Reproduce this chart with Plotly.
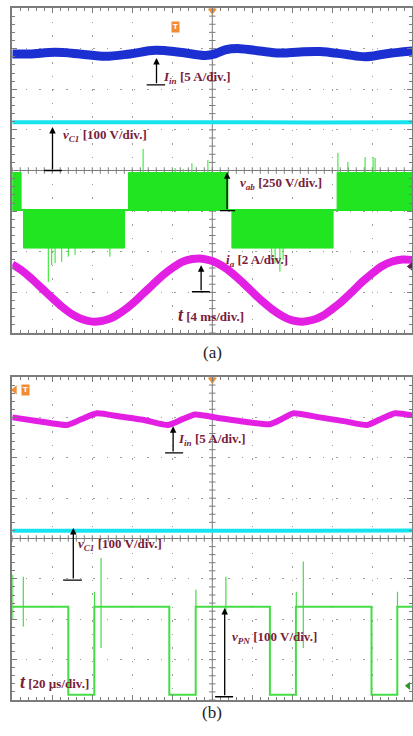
import plotly.graph_objects as go

W, H = 413, 736

# ---------------- panel (a) data, in screen divisions ----------------
iin_a_t = [0, 0.44, 1.07, 1.69, 2.32, 2.94, 3.57, 4.19, 4.82, 5.07, 5.32, 5.69, 6.19, 6.69, 7.19, 7.69, 8.32, 8.82, 9.32, 10.0]
iin_a_v = [2.87, 2.87, 2.91, 2.87, 2.81, 2.87, 2.96, 2.91, 2.83, 2.87, 2.97, 3.00, 2.94, 2.89, 2.92, 2.93, 2.86, 2.80, 2.87, 2.94]

vc1_a_t = [0, 2.5, 5, 7.5, 10]
vc1_a_v = [1.19, 1.20, 1.19, 1.18, 1.19]

vab_zero, vab_pos, vab_neg = -0.97, -0.05, -1.91
vab_pos_blocks = [(0.0, 0.22), (2.905, 5.39), (8.12, 10.0)]
vab_neg_blocks = [(0.28, 2.805), (5.49, 8.02)]
vab_spike_up_t = [3.27, 4.07, 4.27, 4.49, 4.89, 8.14, 8.39, 8.82, 9.02, 9.07]
vab_spike_up_v = [0.53, 0.06, 0.04, 0.18, 0.26, 0.43, 0.21, 0.33, 0.33, 0.31]
vab_spike_dn_t = [0.90, 0.985, 1.07, 1.235, 1.40, 1.57, 2.44, 6.485, 6.57, 6.69, 6.77]
vab_spike_dn_v = [-2.74, -2.33, -2.28, -2.25, -2.12, -2.08, -2.12, -2.20, -2.28, -2.49, -2.20]

ia_t = [i * 0.25 for i in range(41)]
ia_v = [-2.31, -2.47, -2.68, -2.91, -3.14, -3.36, -3.54, -3.66, -3.72, -3.70,
        -3.62, -3.47, -3.28, -3.05, -2.82, -2.59, -2.40, -2.25, -2.18, -2.17,
        -2.23, -2.35, -2.53, -2.75, -2.99, -3.22, -3.42, -3.58, -3.69, -3.72,
        -3.68, -3.58, -3.41, -3.21, -2.98, -2.74, -2.53, -2.35, -2.24, -2.19, -2.20]

# ---------------- panel (b) data ----------------
iin_b_t = [0, 0.69, 1.37, 1.74, 2.12, 2.69, 3.32, 3.89, 4.24, 4.57, 5.19, 5.82, 6.44, 6.74, 7.02, 7.69, 8.32, 8.87, 9.22, 9.57, 10.0]
iin_b_v = [3.00, 2.90, 2.81, 2.96, 3.10, 3.02, 2.93, 2.81, 2.95, 3.07, 2.98, 2.89, 2.83, 2.96, 3.10, 3.00, 2.90, 2.81, 2.96, 3.10, 3.05]

vc1_b_t = [0, 2.5, 5, 7.5, 10]
vc1_b_v = [0.19, 0.20, 0.19, 0.19, 0.20]

vpn_high, vpn_low = -1.69, -3.87
vpn_fall = [1.40, 3.925, 6.44, 8.98]
vpn_rise = [2.05, 4.585, 7.09, 9.625]
vpn_spike_t = [0.01, 0.275, 2.055, 2.22, 4.59, 5.34, 7.10, 7.275, 9.63]
vpn_spike_top = [-0.90, -0.95, -1.32, -0.48, -1.27, -0.95, -1.32, -0.57, -1.32]
vpn_spike_bot = [-2.00, -2.18, -1.69, -2.71, -1.69, -1.85, -1.69, -2.71, -1.69]

# ---------------- colours ----------------
BLUE = "#1c30d2"
CYAN = "#17e3ee"
GREEN_A = "#22e522"
GREEN_B = "#45dc45"
MAGENTA = "#e41fe4"
TXT = "#7a1c3c"
FRAME = "#7c7c7c"
ORANGE = "#f08c32"

fig = go.Figure()


def center_axes(xa, ya):
    xs, ys = [0, 10, None, 5, 5, None], [0, 0, None, -4, 4, None]
    for k in range(51):
        x = k * 0.2
        xs += [x, x, None]
        ys += [-0.08, 0.08, None]
    for k in range(41):
        y = -4 + k * 0.2
        xs += [4.92, 5.08, None]
        ys += [y, y, None]
    fig.add_trace(go.Scatter(x=xs, y=ys, mode="lines", xaxis=xa, yaxis=ya,
                             line=dict(color=FRAME, width=1), hoverinfo="skip",
                             showlegend=False))


def segs(ts, a, b):
    xs, ys = [], []
    for t, lo, hi in zip(ts, a, b):
        xs += [t, t, None]
        ys += [lo, hi, None]
    return xs, ys


def blocks(bl, y0, y1):
    xs, ys = [], []
    for a, b in bl:
        xs += [a, b, b, a, a, None]
        ys += [y0, y0, y1, y1, y0, None]
    return xs, ys


# ---- panel (a) traces ----
center_axes("x", "y")
fig.add_trace(go.Scatter(x=iin_a_t, y=iin_a_v, mode="lines", line=dict(color=BLUE, width=9, shape="spline"),
                         showlegend=False))
fig.add_trace(go.Scatter(x=vc1_a_t, y=vc1_a_v, mode="lines", line=dict(color=CYAN, width=4),
                         showlegend=False))
fig.add_trace(go.Scatter(x=[0, 10], y=[vab_zero, vab_zero], mode="lines", line=dict(color=GREEN_A, width=2),
                         showlegend=False))
bx, by = blocks(vab_pos_blocks, vab_zero, vab_pos)
fig.add_trace(go.Scatter(x=bx, y=by, mode="lines", fill="toself", fillcolor=GREEN_A,
                         line=dict(color=GREEN_A, width=1), showlegend=False))
bx, by = blocks(vab_neg_blocks, vab_zero, vab_neg)
fig.add_trace(go.Scatter(x=bx, y=by, mode="lines", fill="toself", fillcolor=GREEN_A,
                         line=dict(color=GREEN_A, width=1), showlegend=False))
sx, sy = segs(vab_spike_up_t, [vab_pos] * len(vab_spike_up_t), vab_spike_up_v)
fig.add_trace(go.Scatter(x=sx, y=sy, mode="lines", line=dict(color=GREEN_A, width=1), showlegend=False))
sx, sy = segs(vab_spike_dn_t, [vab_neg] * len(vab_spike_dn_t), vab_spike_dn_v)
fig.add_trace(go.Scatter(x=sx, y=sy, mode="lines", line=dict(color=GREEN_A, width=1), showlegend=False))
fig.add_trace(go.Scatter(x=ia_t, y=ia_v, mode="lines", line=dict(color=MAGENTA, width=8, shape="spline"),
                         showlegend=False))

# ---- panel (b) traces ----
center_axes("x2", "y2")
fig.add_trace(go.Scatter(x=iin_b_t, y=iin_b_v, mode="lines", xaxis="x2", yaxis="y2",
                         line=dict(color=MAGENTA, width=6, shape="spline", smoothing=0.5), showlegend=False))
fig.add_trace(go.Scatter(x=vc1_b_t, y=vc1_b_v, mode="lines", xaxis="x2", yaxis="y2",
                         line=dict(color=CYAN, width=4), showlegend=False))
px_, py_ = [0], [vpn_high]
for f, r in zip(vpn_fall, vpn_rise):
    px_ += [f, f, r, r]
    py_ += [vpn_high, vpn_low, vpn_low, vpn_high]
px_.append(10)
py_.append(vpn_high)
fig.add_trace(go.Scatter(x=px_, y=py_, mode="lines", xaxis="x2", yaxis="y2",
                         line=dict(color=GREEN_B, width=2), showlegend=False))
sx, sy = segs(vpn_spike_t, vpn_spike_bot, vpn_spike_top)
fig.add_trace(go.Scatter(x=sx, y=sy, mode="lines", xaxis="x2", yaxis="y2",
                         line=dict(color=GREEN_B, width=1.2), showlegend=False))

# ---- markers (trigger / channel refs) ----
fig.add_trace(go.Scatter(x=[5], y=[3.93], mode="markers", marker=dict(symbol="triangle-down", size=8, color=ORANGE),
                         cliponaxis=False, showlegend=False))
fig.add_trace(go.Scatter(x=[5], y=[3.93], mode="markers", xaxis="x2", yaxis="y2",
                         marker=dict(symbol="triangle-down", size=8, color=ORANGE),
                         cliponaxis=False, showlegend=False))
fig.add_trace(go.Scatter(x=[9.95], y=[-2.36], mode="markers", marker=dict(symbol="triangle-left", size=7, color="#5a2050"),
                         cliponaxis=False, showlegend=False))
fig.add_trace(go.Scatter(x=[9.9], y=[-3.65], mode="markers", xaxis="x2", yaxis="y2",
                         marker=dict(symbol="triangle-left", size=7, color="#2a9a2a"),
                         cliponaxis=False, showlegend=False))
fig.add_trace(go.Scatter(x=[0.06], y=[3.68], mode="markers", xaxis="x2", yaxis="y2",
                         marker=dict(symbol="triangle-left", size=8, color=ORANGE),
                         cliponaxis=False, showlegend=False))


def axis(domain, rng, anchor):
    return dict(domain=domain, range=rng, anchor=anchor, showline=True, linecolor=FRAME, linewidth=2,
                mirror="ticks", ticks="inside", ticklen=5, tickwidth=1, tickcolor=FRAME,
                tick0=0, dtick=1, minor=dict(dtick=0.2, ticklen=3, ticks="inside", tickcolor=FRAME, showgrid=False),
                showticklabels=False, showgrid=True, gridcolor="#9c9c9c", griddash="1.5px,12px", gridwidth=1,
                zeroline=False, fixedrange=True)


xdom = [12.3 / W, 412.3 / W]
ya_dom = [1 - 333 / H, 1 - 8 / H]
yb_dom = [1 - 700 / H, 1 - 377 / H]

annotations = []
shapes = []


def arrow(xr, yr, x, ytail, yhead, x0, x1):
    annotations.append(dict(x=x, y=yhead, ax=x, ay=ytail, xref=xr, yref=yr, axref=xr, ayref=yr,
                            text="", showarrow=True, arrowhead=2, arrowsize=1, arrowwidth=1.3,
                            arrowcolor="black", standoff=0, startstandoff=0))
    shapes.append(dict(type="line", xref=xr, yref=yr, x0=x0, x1=x1, y0=ytail, y1=ytail,
                       line=dict(color="black", width=1.3)))


def label(xr, yr, x, y, txt):
    annotations.append(dict(x=x, y=y, xref=xr, yref=yr, text=txt, showarrow=False, xanchor="left",
                            yanchor="middle", font=dict(family="Liberation Serif", size=13, color=TXT)))


# panel (a) labels
arrow("x", "y", 3.605, 2.11, 2.77, 3.36, 3.82)
arrow("x", "y", 1.005, 0.0, 1.07, 0.79, 1.24)
arrow("x", "y", 5.37, -0.99, -0.04, 5.19, 5.57)
arrow("x", "y", 4.72, -2.985, -2.33, 4.49, 4.94)
label("x", "y", 3.72, 2.28, "<b><i>I</i><sub><i>in</i></sub> [5 A/div.]</b>")
label("x", "y", 1.22, 0.85, "<b><i>v</i><sub><i>C1</i></sub> [100 V/div.]</b>")
label("x", "y", 5.64, -0.33, "<b><i>v</i><sub><i>ab</i></sub> [250 V/div.]</b>")
label("x", "y", 5.28, -2.22, "<b><i>i</i><sub><i>a</i></sub> [2 A/div.]</b>")
label("x", "y", 4.08, -3.56, "<b><i><span style='font-size:18px'>t</span></i> [4 ms/div.]</b>")

# panel (b) labels
arrow("x2", "y2", 4.02, 2.12, 2.78, 3.82, 4.27)
arrow("x2", "y2", 1.525, -1.03, 0.26, 1.27, 1.74)
arrow("x2", "y2", 5.31, -3.92, -1.72, 5.07, 5.52)
label("x2", "y2", 4.10, 2.44, "<b><i>I</i><sub><i>in</i></sub> [5 A/div.]</b>")
label("x2", "y2", 1.60, -0.16, "<b><i>v</i><sub><i>C1</i></sub> [100 V/div.]</b>")
label("x2", "y2", 5.45, -2.44, "<b><i>v</i><sub><i>PN</i></sub> [100 V/div.]</b>")
label("x2", "y2", 0.13, -3.55, "<b><i><span style='font-size:18px'>t</span></i> [20 µs/div.]</b>")

# trigger badges
annotations.append(dict(x=175 / W, y=1 - 21 / H, xref="paper", yref="paper", text="<b>T</b>", showarrow=False,
                        bgcolor=ORANGE, borderpad=1, font=dict(family="DejaVu Sans", size=7, color="white")))
annotations.append(dict(x=21 / W, y=1 - 390 / H, xref="paper", yref="paper", text="<b>T</b>", showarrow=False,
                        bgcolor=ORANGE, borderpad=1, font=dict(family="DejaVu Sans", size=7, color="white")))

# captions
annotations.append(dict(x=212 / W, y=1 - 352 / H, xref="paper", yref="paper", text="(a)", showarrow=False,
                        font=dict(family="Liberation Serif", size=17, color="#222222")))
annotations.append(dict(x=212 / W, y=1 - 724 / H, xref="paper", yref="paper", text="(b)", showarrow=False,
                        font=dict(family="Liberation Serif", size=17, color="#222222")))

fig.update_layout(
    width=W, height=H, autosize=False,
    margin=dict(l=0, r=0, t=0, b=0),
    paper_bgcolor="white", plot_bgcolor="white",
    xaxis=axis(xdom, [0, 10], "y"),
    yaxis=axis(ya_dom, [-4, 4], "x"),
    xaxis2=axis(xdom, [0, 10], "y2"),
    yaxis2=axis(yb_dom, [-4, 4], "x2"),
    annotations=annotations,
    shapes=shapes,
    showlegend=False,
    hovermode=False,
)

fig.write_html("out.html", config={"displayModeBar": False, "staticPlot": True},
               post_script="document.body.style.margin='0';document.body.style.overflow='hidden';")
